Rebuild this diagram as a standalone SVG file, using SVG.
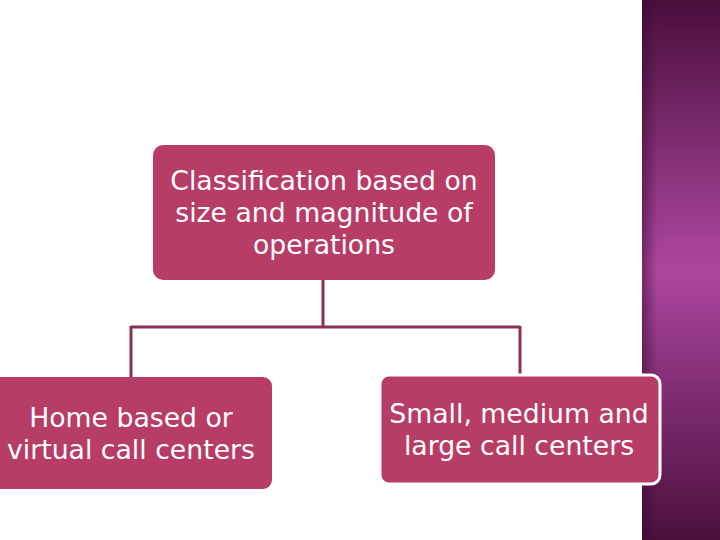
<svg xmlns="http://www.w3.org/2000/svg" width="720" height="540" viewBox="0 0 720 540">
<defs>
<linearGradient id="panel" x1="0" y1="0" x2="0" y2="1">
<stop offset="0" stop-color="#4a0f3c"/>
<stop offset="0.5" stop-color="#ad47a0"/>
<stop offset="1" stop-color="#4a0f3c"/>
</linearGradient>
<linearGradient id="edge" x1="0" y1="0" x2="1" y2="0">
<stop offset="0" stop-color="#3a0a30" stop-opacity="0.5"/>
<stop offset="0.2" stop-color="#3a0a30" stop-opacity="0"/>
</linearGradient>
<style>
.box{fill:#b73c66;}
.lbl{fill:#ffffff;font-family:"DejaVu Sans",Verdana,sans-serif;font-size:26.7px;text-anchor:middle;}
.conn{fill:none;stroke:#8a2e55;stroke-width:3;}
</style>
</defs>
<rect width="720" height="540" fill="#ffffff"/>
<g id="panel-bg">
<rect x="642" y="0" width="78" height="540" fill="url(#panel)"/>
<rect x="642" y="0" width="78" height="540" fill="url(#edge)"/>
</g>
<g id="connectors">
<path class="conn" d="M323,280 V327 M131,327 H520 M131,326 V378 M520,326 V377"/>
</g>
<g id="root">
<rect class="box" x="153" y="145" width="342" height="135" rx="10"/>
<text class="lbl" x="324" y="190">Classification based on</text>
<text class="lbl" x="324" y="222">size and magnitude of</text>
<text class="lbl" x="324" y="254">operations</text>
</g>
<g id="home">
<rect class="box" x="-10" y="377" width="282" height="112" rx="9"/>
<text class="lbl" x="131" y="427">Home based or</text>
<text class="lbl" x="131" y="459">virtual call centers</text>
</g>
<g id="size">
<rect class="box" x="380" y="375" width="280" height="109" rx="9" stroke="#ffffff" stroke-width="3"/>
<text class="lbl" x="519" y="423">Small, medium and</text>
<text class="lbl" x="519" y="455">large call centers</text>
</g>
</svg>
